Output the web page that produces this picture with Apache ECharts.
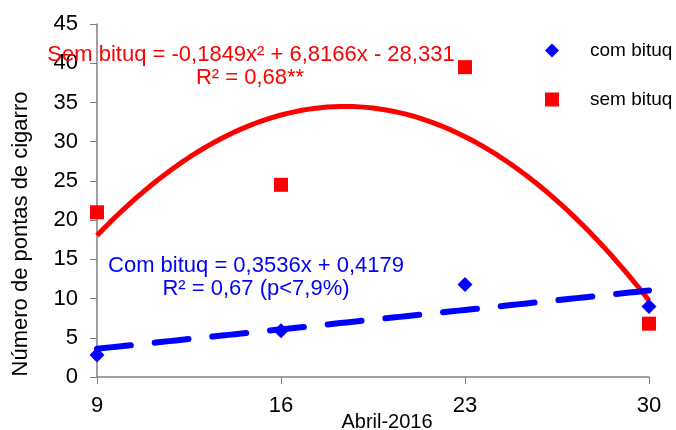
<!DOCTYPE html>
<html>
<head>
<meta charset="utf-8">
<script src="https://cdn.jsdelivr.net/npm/echarts@6/dist/echarts.min.js"></script>
<style>
  html, body { margin: 0; padding: 0; background: #fff; }
  #main { width: 676px; height: 430px; }
</style>
</head>
<body>
<div id="main"></div>
<script>
// dias de abril
var dias = [9, 16, 23, 30];
// pontas de cigarro observadas
var comBituq = [2.8, 5.9, 11.8, 9.0];
var semBituq = [21.0, 24.5, 39.5, 6.8];
// coeficientes das equações mostradas no gráfico (a, b, c)
var semCoef = [-0.1849, 6.8166, -28.331];
var comCoef = [0, 0.3536, 0.4179];

// linha de tendência a partir da equação
function tendencia(coef) {
  var pts = [];
  for (var x = dias[0]; x <= dias[dias.length - 1] + 0.001; x += 0.25) {
    pts.push([x, coef[0] * x * x + coef[1] * x + coef[2]]);
  }
  return pts;
}

var chart = echarts.init(document.getElementById('main'));
var fonte = 'Liberation Sans, Arial, sans-serif';

chart.setOption({
  animation: false,
  grid: { left: 97, right: 27, top: 24, bottom: 53 },
  legend: {
    orient: 'vertical',
    left: 540,
    top: 36,
    itemGap: 30,
    itemWidth: 14,
    itemHeight: 14,
    textStyle: { fontFamily: fonte, fontSize: 19, color: '#000', padding: [0, 0, 0, 26] },
    data: [
      { name: 'com bituq', icon: 'diamond' },
      { name: 'sem bituq', icon: 'rect' }
    ]
  },
  xAxis: {
    type: 'value',
    min: 9,
    max: 30,
    splitLine: { show: false },
    axisLine: { lineStyle: { color: '#808080', width: 1.5 } },
    axisTick: { show: true, length: 7, customValues: dias, lineStyle: { color: '#808080' } },
    axisLabel: { customValues: dias, fontFamily: fonte, fontSize: 22, color: '#000', margin: 18 }
  },
  yAxis: {
    type: 'value',
    min: 0,
    max: 45,
    interval: 5,
    splitLine: { show: false },
    axisLine: { show: true, lineStyle: { color: '#808080', width: 1.5 } },
    axisTick: { show: true, length: 7, lineStyle: { color: '#808080' } },
    axisLabel: { fontFamily: fonte, fontSize: 22, color: '#000', margin: 19 }
  },
  series: [
    {
      name: 'sem bituq curva',
      type: 'line',
      data: tendencia(semCoef),
      showSymbol: false,
      lineStyle: { color: '#ff0000', width: 5 },
      z: 2
    },
    {
      name: 'com bituq reta',
      type: 'line',
      data: tendencia(comCoef),
      showSymbol: false,
      lineStyle: { color: '#0000ff', width: 6, type: [34, 24], cap: 'round' },
      z: 3
    },
    {
      name: 'sem bituq',
      type: 'scatter',
      symbol: 'rect',
      symbolSize: 14,
      itemStyle: { color: '#ff0000', opacity: 1 },
      data: dias.map(function (d, i) { return [d, semBituq[i]]; }),
      z: 4
    },
    {
      name: 'com bituq',
      type: 'scatter',
      symbol: 'diamond',
      symbolSize: 15,
      itemStyle: { color: '#0000ff', opacity: 1 },
      data: dias.map(function (d, i) { return [d, comBituq[i]]; }),
      z: 5
    }
  ],
  graphic: [
    {
      type: 'text', position: [387, 422], z: 10,
      style: { text: 'Abril-2016', fontFamily: fonte, fontSize: 20, fill: '#000', align: 'center', verticalAlign: 'middle' }
    },
    {
      type: 'text', position: [21, 234], rotation: Math.PI / 2, z: 10,
      style: { text: 'Número de pontas de cigarro', fontFamily: fonte, fontSize: 22, fill: '#000', align: 'center', verticalAlign: 'middle' }
    },
    {
      type: 'text', position: [251, 55], z: 10,
      style: { text: 'Sem bituq = -0,1849x² + 6,8166x - 28,331', fontFamily: fonte, fontSize: 22, fill: '#ff0000', align: 'center', verticalAlign: 'middle' }
    },
    {
      type: 'text', position: [250, 78], z: 10,
      style: { text: 'R² = 0,68**', fontFamily: fonte, fontSize: 22, fill: '#ff0000', align: 'center', verticalAlign: 'middle' }
    },
    {
      type: 'text', position: [256, 266], z: 10,
      style: { text: 'Com bituq = 0,3536x + 0,4179', fontFamily: fonte, fontSize: 22, fill: '#0000ff', align: 'center', verticalAlign: 'middle' }
    },
    {
      type: 'text', position: [256, 289], z: 10,
      style: { text: 'R² = 0,67 (p<7,9%)', fontFamily: fonte, fontSize: 22, fill: '#0000ff', align: 'center', verticalAlign: 'middle' }
    }
  ]
});
</script>
</body>
</html>
